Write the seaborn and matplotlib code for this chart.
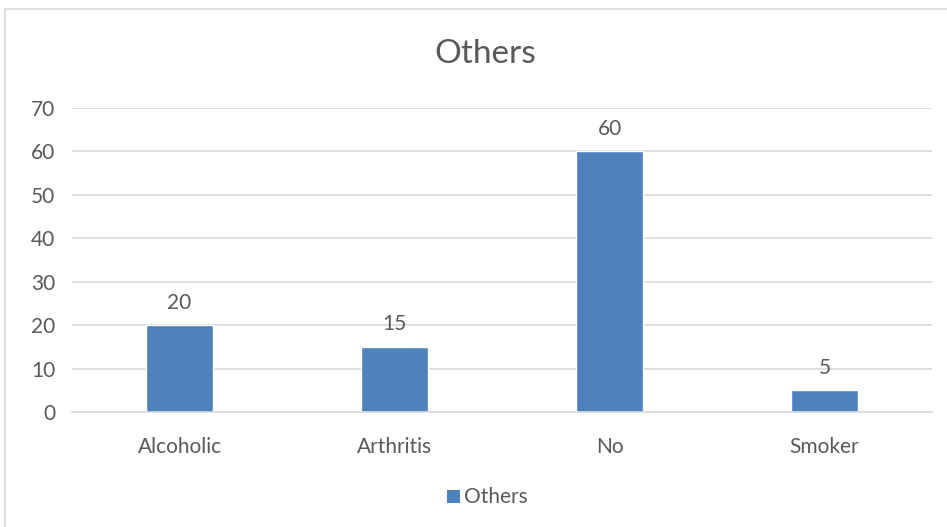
import matplotlib
matplotlib.use("Agg")
import matplotlib.pyplot as plt
import seaborn as sns
import pandas as pd
from matplotlib.patches import Rectangle

categories = ["Alcoholic", "Arthritis", "No", "Smoker"]
values = [20, 15, 60, 5]
series_name = "Others"
yticks = [0, 10, 20, 30, 40, 50, 60, 70]

sns.set_theme(style="white")
plt.rcParams['font.family'] = ['Lato', 'DejaVu Sans']

df = pd.DataFrame({"cat": categories, "val": values, "series": series_name})

fig = plt.figure(figsize=(9.47, 5.27), dpi=100)
ax = fig.add_axes([72/947, 1-412/527, 860/947, (412-108)/527])

bar_color = "#4F81BD"
text_color = "#595959"
fs = 15
sns.barplot(data=df, x="cat", y="val", hue="series", palette=[bar_color],
            width=0.31, ax=ax, legend=False, saturation=1)

ax.set_ylim(0, 70)
ax.set_yticks(yticks)
ax.set_xlim(-0.5, len(categories) - 0.5)
ax.yaxis.grid(True, color="#D9D9D9", linewidth=1.2)
ax.set_axisbelow(True)
for s in ["top", "right", "left"]:
    ax.spines[s].set_visible(False)
ax.spines["bottom"].set_color("#D9D9D9")
ax.spines["bottom"].set_linewidth(1.2)
ax.set_xlabel("")
ax.set_ylabel("")
ax.tick_params(axis="both", length=0, labelsize=fs, colors=text_color)
ax.tick_params(axis="x", pad=18)
ax.tick_params(axis="y", pad=12)

for c in ax.containers:
    ax.bar_label(c, labels=[str(v) for v in values], padding=9, fontsize=fs, color=text_color)

fig.text(485/947, 1-54/527, "Others", ha="center", va="center", fontsize=24, color=text_color)

# legend
fig.patches.append(Rectangle((447/947, 1-503/527), 13/947, 13/527, transform=fig.transFigure,
                             facecolor=bar_color, edgecolor="none"))
fig.text(464/947, 1-497/527, series_name, ha="left", va="center", fontsize=fs, color=text_color)

# chart border
fig.patches.append(Rectangle((5/947, -0.01), 1.0, 1 - 9/527 + 0.01, transform=fig.transFigure,
                             facecolor="none", edgecolor="#D9D9D9", linewidth=1.2))

fig.savefig("out.png", dpi=100)
